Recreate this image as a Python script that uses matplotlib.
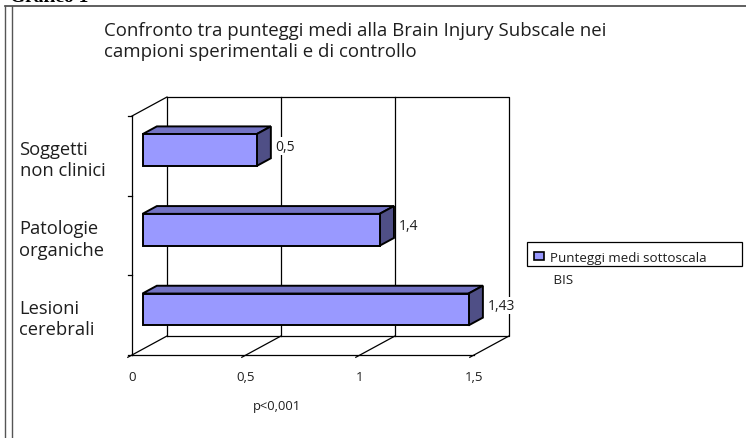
import numpy as np
import matplotlib
matplotlib.use("Agg")
import matplotlib.pyplot as plt
from matplotlib.patches import Polygon, Rectangle

# data (bottom to top, as drawn)
categories = ["Lesioni\ncerebrali", "Patologie\norganiche", "Soggetti\nnon clinici"]
bar_values = [1.43, 1.04, 0.5]          # bar lengths as drawn
value_labels = ["1,43", "1,4", "0,5"]   # labels as printed on the chart
x_ticks = [0, 0.5, 1, 1.5]
x_tick_labels = ["0", "0,5", "1", "1,5"]
series_name = "Punteggi medi sottoscala\n BIS"
title = "Confronto tra punteggi medi alla Brain Injury Subscale nei\ncampioni sperimentali e di controllo"
note = "p<0,001"

FONT = "Open Sans"
TXT = "#1e1e1e"
FRONT = "#9999ff"
TOP = "#7373c4"
SIDE = "#4f4f86"

W, H = 746, 439
fig = plt.figure(figsize=(W / 100, H / 100), dpi=100)
fig.patch.set_facecolor("white")

# front plane of the 3d box
ax = fig.add_axes([132 / W, (H - 356) / H, 342 / W, 239 / H])
ax.set_xlim(0, 1.5)
ax.set_ylim(0, 3)
ax.patch.set_alpha(0)

# depth vector of the box in data units
DX = 35 / 228
DY = 19 / (239 / 3)
D0, D1 = 0.3, 0.71     # bars sit between these depth fractions
bh = 0.4

lk = dict(color="black", lw=0.9, clip_on=False, zorder=1)
xmax, ymax = x_ticks[-1], len(categories)
# back wall
ax.plot([DX, xmax + DX, xmax + DX, DX, DX], [DY, DY, ymax + DY, ymax + DY, DY], **lk)
for t in x_ticks[1:-1]:
    ax.plot([t + DX, t + DX], [DY, ymax + DY], **lk)
# floor
ax.plot([0, xmax], [0, 0], **lk)
for t in x_ticks:
    ax.plot([t - 0.12 * DX, t + DX], [-0.12 * DY, DY], **lk)
# left wall
ax.plot([0, 0], [0, ymax], **lk)
ax.plot([0, DX], [ymax, ymax + DY], **lk)
for k in range(ymax + 1):
    ax.plot([-0.018, 0], [k, k], **lk)

# bars
for i, v in enumerate(bar_values):
    x0 = D0 * DX
    x1 = v + D0 * DX
    yb = i + 0.5 - bh / 2 + D0 * DY
    yt = i + 0.5 + bh / 2 + D0 * DY
    ddx, ddy = (D1 - D0) * DX, (D1 - D0) * DY
    pk = dict(ec="black", lw=1.4, joinstyle="miter", clip_on=False, zorder=3)
    ax.add_patch(Polygon([(x0, yt), (x1, yt), (x1 + ddx, yt + ddy), (x0 + ddx, yt + ddy)], fc=TOP, **pk))
    ax.add_patch(Polygon([(x1, yb), (x1, yt), (x1 + ddx, yt + ddy), (x1 + ddx, yb + ddy)], fc=SIDE, **pk))
    ax.add_patch(Polygon([(x0, yb), (x1, yb), (x1, yt), (x0, yt)], fc=FRONT, **pk))
    ax.text(x1 + ddx + 0.02, (yb + yt) / 2 + ddy / 2, value_labels[i], family=FONT,
            fontsize=10, color=TXT, ha="left", va="center", zorder=4,
            bbox=dict(fc="white", ec="none", pad=1.0))

for s in ax.spines.values():
    s.set_visible(False)
ax.set_xticks(x_ticks, x_tick_labels, family=FONT, fontsize=9.5, color=TXT)
ax.tick_params(axis="x", length=0, pad=11)
ax.set_yticks([i + 0.5 for i in range(len(categories))], categories, family=FONT,
              fontsize=13.2, color=TXT, ha="left", linespacing=1.22)
ax.tick_params(axis="y", length=0, pad=81)

fig.text(104 / W, 1 - 22 / H, title, family=FONT, fontsize=13.4, color=TXT,
         ha="left", va="top", linespacing=1.2)
fig.text(277 / W, 1 - 407 / H, note, family=FONT, fontsize=9.3, color=TXT,
         ha="center", va="center")

# legend (box shorter than its two-line text, as in the original)
fig.add_artist(Rectangle((527 / W, 1 - 267 / H), 215 / W, 24 / H, transform=fig.transFigure,
                         fc="white", ec="black", lw=0.9))
fig.add_artist(Rectangle((534 / W, 1 - 261 / H), 10 / W, 8 / H, transform=fig.transFigure,
                         fc=FRONT, ec="black", lw=1.2))
fig.text(550 / W, 1 - 252 / H, series_name, family=FONT, fontsize=9.6, color=TXT,
         ha="left", va="top", linespacing=1.88)

# page frame / caption from the document
fig.add_artist(plt.Line2D([5 / W, 1], [1 - 7 / H, 1 - 7 / H], color="#444444", lw=1.2))
for xx in (5, 12):
    fig.add_artist(plt.Line2D([xx / W, xx / W], [0, 1 - 7 / H], color="#555555", lw=1.0))
fig.text(10 / W, 1 - 2.5 / H, "Grafico 1", family="Liberation Serif", fontweight="bold",
         fontsize=14, ha="left", va="baseline")

fig.savefig("out.png", dpi=100)
